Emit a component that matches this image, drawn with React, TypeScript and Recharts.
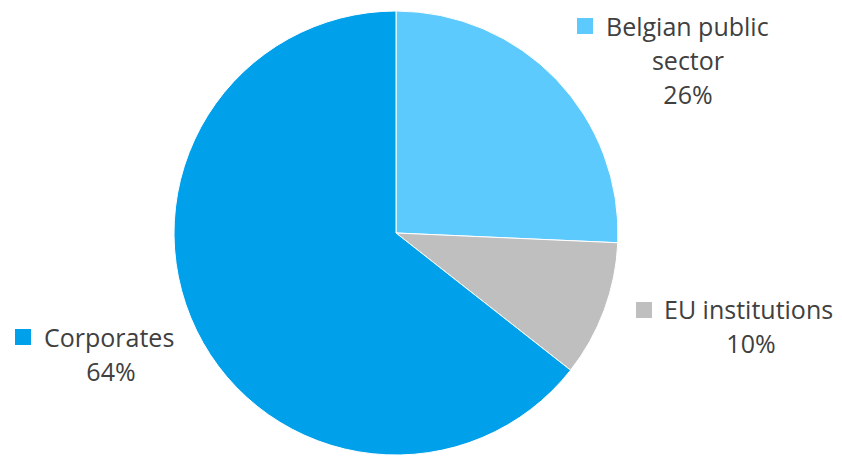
import { PieChart, Pie, Cell } from "recharts";

const categories = ["Belgian public sector", "EU institutions", "Corporates"];
const shares = [25.7, 9.9, 64.4];
const colors = ["#5DCAFE", "#BFBFBF", "#00A0EA"];

// label text lines for each slice (last line is the percentage)
const labelLines = [["Belgian public", "sector"], ["EU institutions"], ["Corporates"]];

// where each label block sits, relative to the pie centre
const labelPlace = [
  { sqX: 181, sqY: -215, textX: 210, firstY: -197, midX: 292 },
  { sqX: 240, sqY: 69, textX: 268, firstY: 86, midX: 355 },
  { sqX: -381, sqY: 96, textX: -352, firstY: 114, midX: -285 },
];

const data = categories.map((name, i) => ({ name, value: shares[i] }));

const FONT = "'Open Sans', Lato, sans-serif";
const LINE = 34;

function renderLabel(props: any) {
  const { cx, cy, index, value } = props;
  const p = labelPlace[index];
  const lines = labelLines[index];
  return (
    <g key={"lbl" + index}>
      <rect x={cx + p.sqX} y={cy + p.sqY} width={16} height={16} fill={colors[index]} />
      {lines.map((t, j) => (
        <text
          key={j}
          x={j === 0 ? cx + p.textX : cx + p.midX}
          y={cy + p.firstY + j * LINE}
          textAnchor={j === 0 ? "start" : "middle"}
          fontFamily={FONT}
          fontSize={25}
          fill="#404040"
        >
          {t}
        </text>
      ))}
      <text
        x={cx + p.midX}
        y={cy + p.firstY + lines.length * LINE}
        textAnchor="middle"
        fontFamily={FONT}
        fontSize={25}
        fill="#404040"
      >
        {Math.round(value)}%
      </text>
    </g>
  );
}

export default function App() {
  return (
    <div style={{ position: "absolute", left: 0, top: 0, width: 842, height: 459, background: "#fff" }}>
      <PieChart width={842} height={459} margin={{ top: 0, right: 0, bottom: 0, left: 0 }}>
        <Pie
          data={data}
          dataKey="value"
          nameKey="name"
          cx={396}
          cy={233}
          outerRadius={222}
          startAngle={90}
          endAngle={-270}
          stroke="#ffffff"
          strokeWidth={1}
          label={renderLabel}
          labelLine={false}
          isAnimationActive={false}
        >
          {data.map((d, i) => (
            <Cell key={d.name} fill={colors[i]} />
          ))}
        </Pie>
      </PieChart>
    </div>
  );
}
